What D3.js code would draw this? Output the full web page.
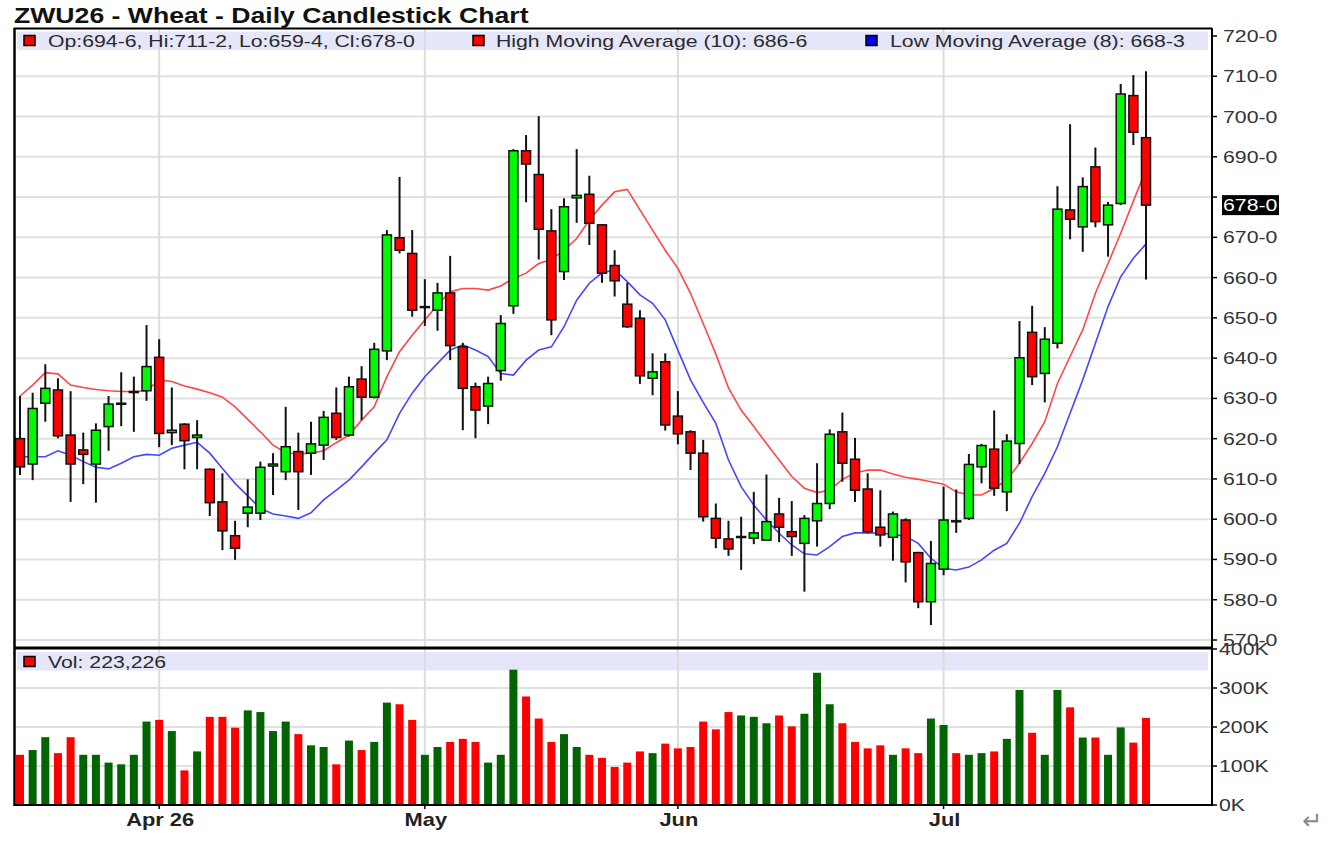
<!DOCTYPE html>
<html>
<head>
<meta charset="utf-8">
<script src="https://d3js.org/d3.v7.min.js"></script>
<style>
body { margin: 0; background: #fff; }
svg { display: block; font-family: "Liberation Sans", Arial, sans-serif; }
</style>
</head>
<body>
<div id="chart"></div>
<script>
// daily candles (price in cents/bu)
var opens  = [620.0,613.7,628.8,632.1,620.9,617.2,613.7,623.0,628.8,631.7,631.9,640.2,621.5,623.6,620.3,612.4,604.3,595.9,601.5,601.5,
              613.2,611.8,616.8,616.4,618.4,626.3,620.9,634.8,630.3,641.8,669.9,666.0,652.8,651.9,656.2,642.8,632.9,628.1,636.9,653.0,
              691.5,685.6,671.6,661.5,679.8,680.7,673.1,663.0,653.4,649.9,635.0,639.1,625.6,621.7,616.4,600.2,595.1,595.7,595.3,594.8,
              601.3,596.9,594.0,599.6,603.9,621.7,614.9,607.5,598.0,595.5,599.8,591.7,579.5,587.6,599.6,600.2,613.0,617.4,606.8,618.8,
              646.4,636.2,643.7,676.8,672.6,687.5,673.1,678.4,705.2,694.75];
var highs  = [630.6,631.4,638.5,635.0,631.8,621.5,623.8,630.6,636.5,635.4,648.2,644.7,632.7,623.8,624.6,612.6,611.4,599.6,609.9,614.3,
              616.4,627.9,621.5,624.2,626.9,632.7,635.4,638.0,643.8,671.8,685.0,671.8,659.6,658.7,665.4,643.8,633.9,635.4,650.7,691.9,
              695.4,700.1,677.0,679.7,691.9,685.3,673.3,666.8,658.7,651.9,641.2,641.2,631.8,622.1,619.7,603.9,599.6,600.6,606.8,611.1,
              605.3,604.5,601.0,613.9,622.3,626.5,620.2,611.4,607.2,601.9,600.2,591.9,594.6,608.1,607.4,616.2,618.7,627.0,621.1,649.2,
              653.0,647.7,682.7,698.1,684.9,692.3,678.8,708.1,710.3,711.25];
var lows   = [611.0,609.7,624.2,620.1,604.3,608.7,604.1,617.0,623.1,621.7,629.4,617.9,618.4,612.4,612.4,600.8,592.3,589.9,598.0,599.8,
              606.0,609.7,602.3,611.0,614.7,619.7,620.5,624.6,630.0,639.5,666.0,650.3,648.0,646.8,639.5,622.1,620.1,623.6,634.4,651.0,
              678.7,664.5,645.7,659.4,673.6,668.1,658.7,655.3,647.5,633.6,630.8,622.0,618.6,612.2,599.4,592.8,590.9,587.4,593.8,594.8,
              594.3,590.9,582.0,593.2,602.5,609.3,604.3,596.5,593.2,589.7,584.3,577.9,573.7,586.1,596.6,599.8,608.9,605.8,602.0,613.7,
              633.3,629.0,642.4,669.5,666.4,672.5,665.2,678.0,692.9,659.5];
var closes = [613.0,627.5,632.5,620.7,613.7,616.1,622.1,628.6,628.8,631.7,637.9,621.3,622.1,619.5,620.9,604.1,597.1,592.8,603.0,612.9,
              613.7,618.0,611.8,618.7,625.3,620.3,632.9,630.3,642.2,670.6,666.8,651.9,652.8,656.2,643.1,632.5,627.1,633.7,648.6,691.5,
              688.2,672.0,649.5,677.6,680.4,673.5,661.1,659.2,647.8,635.6,636.6,623.4,621.2,616.4,600.6,595.3,592.6,595.7,596.6,599.4,
              598.0,595.7,600.2,603.9,621.1,613.9,607.2,596.9,596.1,601.3,589.4,579.5,589.0,599.8,599.6,613.6,618.3,607.7,619.4,640.1,
              635.4,644.7,677.0,674.5,682.6,673.9,678.0,705.6,696.1,678.0];
var volumes = [128700,140900,173900,133000,173900,128700,128700,108700,104300,128700,213900,218300,189600,88700,137400,226100,226100,198300,242600,238300,
               189600,213900,181700,153000,148700,104300,165200,140900,161700,262600,258300,218300,128700,148700,161700,169600,161700,108700,128700,347000,
               278300,221700,161700,181700,148700,128700,120900,97400,108700,137400,133000,157400,145200,148700,213900,193900,238300,229600,226100,209600,
               229600,201700,233900,339100,258300,209600,161700,145200,153000,128700,145200,133000,221700,205200,133000,128700,133000,137400,169600,294800,
               185200,128700,294800,250400,173000,173000,128700,199000,160000,223226];
// moving average lines as drawn on the chart
var highMA = [630.6,633.3,636.4,636.1,633.3,632.7,632.2,631.9,631.7,631.7,631.9,634.6,634.2,633.1,632.3,631.4,630.3,627.9,624.8,621.7,
              618.4,616.5,616.2,616.4,617.0,619.0,620.9,624.6,627.9,635.4,641.6,645.7,649.5,653.2,656.5,657.3,657.3,656.9,657.9,659.8,
              661.1,663.5,664.5,666.8,669.7,674.3,678.0,681.3,681.9,676.8,671.8,666.8,662.3,656.1,648.6,641.0,632.6,627.1,623.0,618.8,
              614.7,610.6,607.7,606.6,607.2,609.9,611.5,612.2,612.2,611.2,610.4,609.9,609.3,608.7,606.8,606.0,606.0,607.7,609.7,613.9,
              618.8,624.2,633.7,640.4,647.0,656.1,663.5,671.0,679.0,686.75];
var lowMA  = [615.5,615.5,615.5,617.0,615.9,614.3,612.9,612.5,613.9,615.5,616.1,615.9,617.6,618.4,619.1,616.4,612.6,608.9,605.8,602.7,
              601.3,600.8,600.2,601.6,604.8,607.2,609.7,613.0,616.4,619.7,626.3,631.3,635.4,638.7,642.0,643.3,642.0,640.4,636.2,635.8,
              639.5,642.0,642.8,647.8,654.4,658.6,661.2,661.9,659.0,655.7,653.6,649.5,642.0,634.6,629.0,623.8,614.7,608.1,603.5,599.8,
              596.5,593.6,591.4,591.1,593.2,595.7,596.6,596.6,596.5,596.3,595.7,594.0,590.3,587.8,587.4,588.1,589.9,592.3,594.0,599.0,
              605.6,611.4,618.0,626.3,634.6,643.7,652.8,660.2,664.8,668.375];
var monthLabels = ["Apr 26", "May", "Jun", "Jul"];
var monthIdx = [11, 32, 52, 73];
var priceTicks = [570, 580, 590, 600, 610, 620, 630, 640, 650, 660, 670, 680, 690, 700, 710, 720];
var volTicks = [0, 100000, 200000, 300000, 400000];

var N = closes.length;
var W = 1344, H = 842;
var SX = 1.25; // the picture's text is a bit wide

var svg = d3.select("#chart").append("svg")
	.attr("width", W)
	.attr("height", H);

var L = 14, R = 1212, PT = 28, PB = 648, VT = 649, VB = 805;

var x = d3.scaleLinear().domain([0, N - 1]).range([20, 1146]);
var yP = d3.scaleLinear().domain([570, 720]).range([640, 36]);
var yV = d3.scaleLinear().domain([0, 400000]).range([VB, VT]);

// 694.75 -> "694-6"
function fmtPrice(p) {
	var w = Math.floor(p + 1e-9);
	return w + "-" + Math.round((p - w) * 8);
}

function wideText(g, px, py, str, anchor) {
	return g.append("text")
		.attr("transform", "translate(" + px + "," + py + ") scale(" + SX + ",1)")
		.attr("text-anchor", anchor || "start")
		.text(str);
}

//////////////////////////// grid ////////////////////////////

var grid = svg.append("g").attr("stroke", "#e0e0e0").attr("stroke-width", 2);

grid.selectAll("line.hp").data(priceTicks.filter(function(d) { return d < 720; }))
	.join("line")
	.attr("x1", L).attr("x2", R)
	.attr("y1", function(d) { return yP(d); })
	.attr("y2", function(d) { return yP(d); });

grid.selectAll("line.hv").data(volTicks.slice(1, 4))
	.join("line")
	.attr("x1", L).attr("x2", R)
	.attr("y1", function(d) { return yV(d); })
	.attr("y2", function(d) { return yV(d); });

// legend bands
svg.append("rect").attr("x", 17).attr("y", 31.5).attr("width", 1191).attr("height", 18.5).attr("fill", "#e6e6fa");
svg.append("rect").attr("x", 17).attr("y", 652).attr("width", 1191).attr("height", 18.5).attr("fill", "#e6e6fa");

svg.append("g").attr("stroke", "#dcdcdc").attr("stroke-width", 2)
	.selectAll("line").data(monthIdx)
	.join("line")
	.attr("x1", function(d) { return x(d); })
	.attr("x2", function(d) { return x(d); })
	.attr("y1", PT)
	.attr("y2", VB);

//////////////////////////// moving averages ////////////////////////////

var maLine = d3.line().x(function(d, i) { return x(i); }).y(function(d) { return yP(d); });

svg.append("path").attr("d", maLine(highMA))
	.attr("fill", "none").attr("stroke", "#ff4646").attr("stroke-width", 1.6);
svg.append("path").attr("d", maLine(lowMA))
	.attr("fill", "none").attr("stroke", "#4646ff").attr("stroke-width", 1.6);

//////////////////////////// candles ////////////////////////////

var cg = svg.append("g").selectAll("g").data(d3.range(N)).join("g");

cg.append("line")
	.attr("x1", function(i) { return x(i); })
	.attr("x2", function(i) { return x(i); })
	.attr("y1", function(i) { return yP(highs[i]); })
	.attr("y2", function(i) { return yP(lows[i]); })
	.attr("stroke", "#111")
	.attr("stroke-width", 2);

cg.append("rect")
	.attr("x", function(i) { return x(i) - 4.5; })
	.attr("width", 9)
	.attr("y", function(i) { return yP(Math.max(opens[i], closes[i])); })
	.attr("height", function(i) { return Math.max(1, Math.abs(yP(opens[i]) - yP(closes[i]))); })
	.attr("fill", function(i) {
		if (closes[i] === opens[i]) return "#000";
		return closes[i] > opens[i] ? "#00f800" : "#ff0000";
	})
	.attr("stroke", "#111")
	.attr("stroke-width", 1.5);

//////////////////////////// volume ////////////////////////////

svg.append("g").selectAll("rect").data(volumes)
	.join("rect")
	.attr("x", function(d, i) { return x(i) - 4; })
	.attr("width", 8)
	.attr("y", function(d) { return yV(d); })
	.attr("height", function(d) { return yV(0) - yV(d); })
	.attr("fill", function(d, i) {
		var prev = i === 0 ? opens[0] : closes[i - 1];
		return closes[i] >= prev ? "#006400" : "#ff0000";
	});

//////////////////////////// frame & axes ////////////////////////////

var frame = svg.append("g").attr("stroke", "#000").attr("fill", "none");
frame.append("line").attr("x1", L).attr("x2", R).attr("y1", PT + 0.5).attr("y2", PT + 0.5).attr("stroke-width", 2);
frame.append("line").attr("x1", L).attr("x2", R).attr("y1", PB).attr("y2", PB).attr("stroke-width", 3);
frame.append("line").attr("x1", L).attr("x2", R).attr("y1", VB).attr("y2", VB).attr("stroke-width", 2);
frame.append("line").attr("x1", L + 0.5).attr("x2", L + 0.5).attr("y1", PT).attr("y2", VB + 1).attr("stroke-width", 2.5);
frame.append("line").attr("x1", R).attr("x2", R).attr("y1", PT).attr("y2", VB + 1).attr("stroke-width", 2);

frame.selectAll("line.pt").data(priceTicks)
	.join("line")
	.attr("x1", R).attr("x2", R + 5)
	.attr("y1", function(d) { return yP(d); })
	.attr("y2", function(d) { return yP(d); })
	.attr("stroke-width", 1.5);
frame.selectAll("line.vt").data(volTicks)
	.join("line")
	.attr("x1", R).attr("x2", R + 5)
	.attr("y1", function(d) { return yV(d); })
	.attr("y2", function(d) { return yV(d); })
	.attr("stroke-width", 1.5);
frame.selectAll("line.mt").data(monthIdx)
	.join("line")
	.attr("x1", function(d) { return x(d); })
	.attr("x2", function(d) { return x(d); })
	.attr("y1", VB).attr("y2", VB + 4)
	.attr("stroke-width", 1.5);

var axisText = svg.append("g").attr("font-size", 17).attr("fill", "#333");
var last = closes[N - 1];

// the last-price marker hides the tick label it sits on
priceTicks.forEach(function(p) {
	if (Math.abs(yP(p) - yP(last)) < 14) return;
	wideText(axisText, 1223, yP(p) + 6, fmtPrice(p));
});
volTicks.forEach(function(v) {
	wideText(axisText, 1219, yV(v) + 6, (v / 1000) + "K");
});

svg.append("rect")
	.attr("x", 1222).attr("y", yP(last) - 10)
	.attr("width", 57).attr("height", 20)
	.attr("fill", "#000");
wideText(svg, 1223, yP(last) + 6, fmtPrice(last))
	.attr("font-size", 17).attr("fill", "#fff");

var monthText = svg.append("g").attr("font-size", 17.5).attr("font-weight", "bold").attr("fill", "#222");
monthIdx.forEach(function(d, k) {
	wideText(monthText, x(d) + 1, 826, monthLabels[k], "middle");
});

//////////////////////////// title & legends ////////////////////////////

wideText(svg, 14, 23, "ZWU26 - Wheat - Daily Candlestick Chart")
	.attr("font-size", 21.3)
	.attr("font-weight", "bold")
	.attr("fill", "#111");

var leg = svg.append("g").attr("font-size", 17).attr("fill", "#2a2a2a");

var legendItems = [
	{ sx: 24, tx: 48, color: "#ff0000",
	  text: "Op:" + fmtPrice(opens[N - 1]) + ", Hi:" + fmtPrice(highs[N - 1]) + ", Lo:" + fmtPrice(lows[N - 1]) + ", Cl:" + fmtPrice(closes[N - 1]) },
	{ sx: 473, tx: 496, color: "#ff0000", text: "High Moving Average (10): " + fmtPrice(highMA[N - 1]) },
	{ sx: 866, tx: 890, color: "#0000ff", text: "Low Moving Average (8): " + fmtPrice(lowMA[N - 1]) }
];

legendItems.forEach(function(it) {
	leg.append("rect")
		.attr("x", it.sx).attr("y", 35.5)
		.attr("width", 11).attr("height", 10)
		.attr("fill", it.color)
		.attr("stroke", "#000").attr("stroke-width", 1.5);
	wideText(leg, it.tx, 46.5, it.text);
});

leg.append("rect")
	.attr("x", 24).attr("y", 656.5)
	.attr("width", 11).attr("height", 10)
	.attr("fill", "#ff0000")
	.attr("stroke", "#000").attr("stroke-width", 1.5);
wideText(leg, 48, 668, "Vol: " + d3.format(",")(volumes[N - 1]));

svg.append("text")
	.attr("x", 1312).attr("y", 829)
	.attr("text-anchor", "middle")
	.attr("font-family", "DejaVu Sans")
	.attr("font-size", 24)
	.attr("fill", "#888")
	.text("\u21B5");
</script>
</body>
</html>
